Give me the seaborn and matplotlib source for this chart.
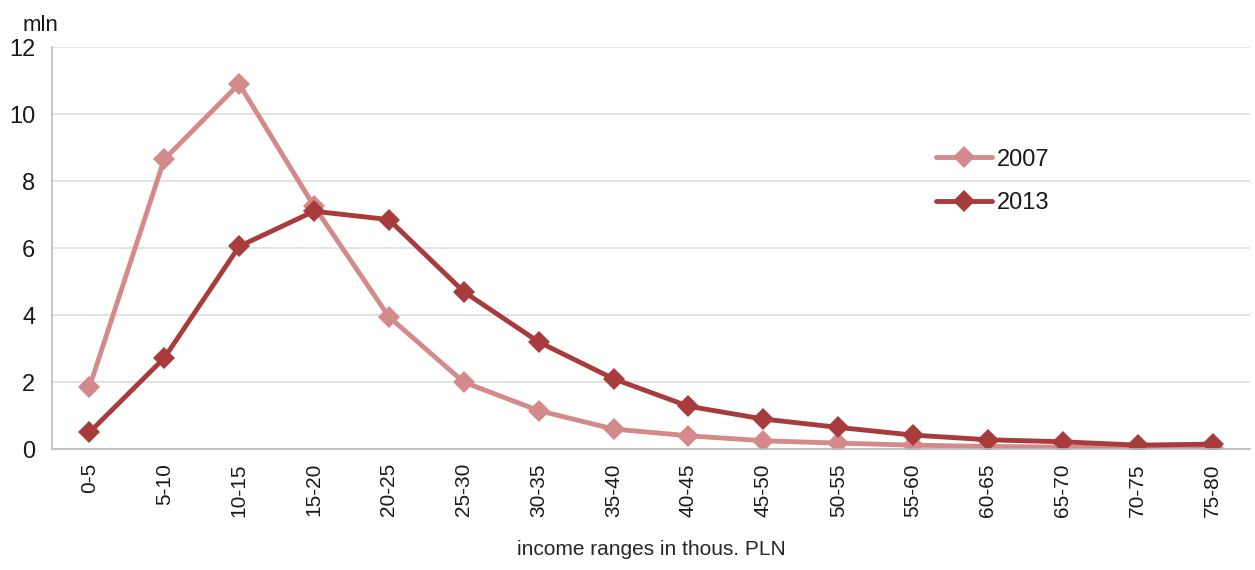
import pandas as pd
import numpy as np
import matplotlib
matplotlib.use("Agg")
import matplotlib.pyplot as plt
import seaborn as sns

# Data (mln people per income range)
ranges = ["0-5", "5-10", "10-15", "15-20", "20-25", "25-30", "30-35", "35-40",
          "40-45", "45-50", "50-55", "55-60", "60-65", "65-70", "70-75", "75-80"]
vals_2007 = [1.85, 8.65, 10.9, 7.25, 3.95, 2.0, 1.15, 0.6,
             0.4, 0.25, 0.18, 0.12, 0.08, 0.06, 0.05, 0.04]
vals_2013 = [0.5, 2.72, 6.05, 7.1, 6.85, 4.7, 3.2, 2.1,
             1.28, 0.9, 0.65, 0.42, 0.28, 0.22, 0.12, 0.15]
years = ["2007", "2013"]
colors = ["#D4898B", "#A83C3C"]

df = pd.DataFrame({
    "range": ranges * 2,
    "pos": list(range(len(ranges))) * 2,
    "value": vals_2007 + vals_2013,
    "year": [years[0]] * len(ranges) + [years[1]] * len(ranges),
})

sns.set_style("white")
plt.rcParams["font.family"] = ["Liberation Sans", "DejaVu Sans"]
plt.rcParams["text.color"] = "#1a1a1a"
plt.rcParams["xtick.color"] = "#1a1a1a"
plt.rcParams["ytick.color"] = "#1a1a1a"

fig = plt.figure(figsize=(12.55, 5.7), dpi=100)
ax = fig.add_axes([0.0414, 0.212, 0.9546, 0.7055])

sns.lineplot(data=df, x="pos", y="value", hue="year", palette=colors,
             marker="D", markersize=11, markeredgewidth=0, linewidth=3.5, ax=ax)

ax.set_xlim(-0.5, len(ranges) - 0.5)
ax.set_ylim(0, 12)
ax.set_yticks(np.arange(0, 13, 2))
ax.set_yticklabels([str(v) for v in range(0, 13, 2)], fontsize=17)
ax.set_xticks(range(len(ranges)))
ax.set_xticklabels(ranges, rotation=90, fontsize=15)
ax.set_xticks(np.arange(-0.5, len(ranges), 1), minor=True)
ax.tick_params(axis="x", which="major", length=0, pad=10)
ax.tick_params(axis="x", which="minor", length=7, color="#BBBBBB", direction="out")
ax.tick_params(axis="y", length=6, color="#BBBBBB", labelcolor="#1a1a1a",
               direction="out", pad=6)

ax.grid(axis="y", color="#DDDDDD", linewidth=1.2)
ax.set_axisbelow(True)
for s in ["top", "right"]:
    ax.spines[s].set_visible(False)
ax.spines["left"].set_color("#BBBBBB")
ax.spines["bottom"].set_color("#BBBBBB")
ax.spines["left"].set_linewidth(1.2)
ax.spines["bottom"].set_linewidth(1.2)

ax.set_xlabel("income ranges in thous. PLN", fontsize=15, labelpad=17)
ax.set_ylabel("")
ax.text(0.018, 0.955, "mln", transform=fig.transFigure, fontsize=16,
        ha="left", va="center")

leg = ax.legend(loc="upper left", bbox_to_anchor=(0.72, 0.8), frameon=False,
                fontsize=17, handlelength=2.4, handletextpad=0.2, labelspacing=0.9)

fig.savefig("out.png", dpi=100)
